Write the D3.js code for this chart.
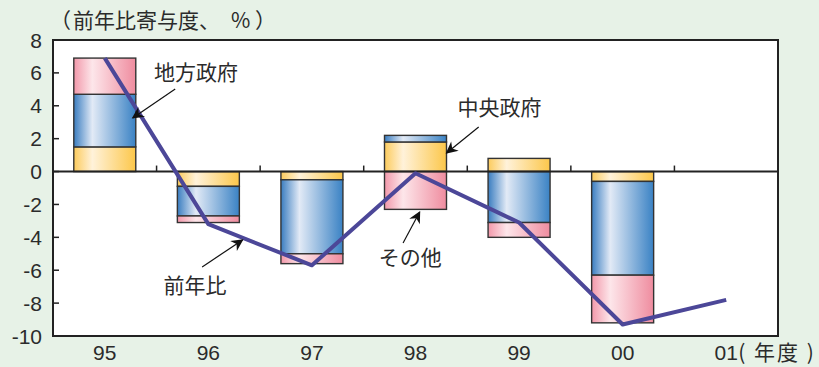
<!DOCTYPE html>
<html>
<head>
<meta charset="utf-8">
<script src="https://cdn.jsdelivr.net/npm/d3@7"></script>
<style>
  html, body { margin: 0; padding: 0; background: #e7f2e7; }
  svg { display: block; font-family: "Noto Sans CJK JP", "Noto Sans", sans-serif; }
  text { fill: #2b2b2b; }
</style>
</head>
<body>
<svg id="chart" width="819" height="367"></svg>
<script>
// ---- data ----
const years = ["95", "96", "97", "98", "99", "00", "01"];
const central = [1.5, -0.9, -0.5, 1.8, 0.8, -0.6, null];   // 中央政府
const local = [3.2, -1.8, -4.5, 0.4, -3.1, -5.7, null];    // 地方政府
const other = [2.2, -0.4, -0.6, -2.3, -0.9, -2.9, null];   // その他
const yoy = [6.9, -3.2, -5.7, -0.1, -3.1, -9.3, -7.8];     // 前年比
const yTicks = [8, 6, 4, 2, 0, -2, -4, -6, -8, -10];

// annotations in data space (x = category index, y = value)
const notes = [
  { text: "地方政府", tx: 0.88, ty: 6.05, x1: 0.68, y1: 5.02, x2: 0.27, y2: 3.26 },
  { text: "中央政府", tx: 3.81, ty: 3.87, x1: 3.61, y1: 2.71, x2: 3.30, y2: 1.13 },
  { text: "前年比", tx: 0.87, ty: -6.9, x1: 0.94, y1: -5.8, x2: 1.33, y2: -4.16 },
  { text: "その他", tx: 2.95, ty: -5.25, x1: 2.88, y1: -4.34, x2: 3.04, y2: -2.46 }
];

const svg = d3.select("#chart");
const plotL = 53, plotR = 778, plotT = 40, plotB = 336;

const x = d3.scaleBand().domain(years).range([plotL, plotR]);
const xi = d3.scaleLinear().domain([-0.5, years.length - 0.5]).range([plotL, plotR]);
const y = d3.scaleLinear().domain([-10, 8]).range([plotB, plotT]);

/* ================================
   GRADIENTS
================================ */
const defs = svg.append("defs");
const grads = {
  central: ["#fccb5c", "#fff2da", "#fcc74a"],
  local: ["#3a7dc0", "#e2eaf6", "#3a82c4"],
  other: ["#f298aa", "#fde6ea", "#ef8c9f"]
};
Object.entries(grads).forEach(([k, c]) => {
  const g = defs.append("linearGradient").attr("id", "g-" + k)
    .attr("x1", "0%").attr("x2", "100%").attr("y1", "0%").attr("y2", "0%");
  g.append("stop").attr("offset", "0%").attr("stop-color", c[0]);
  g.append("stop").attr("offset", "30%").attr("stop-color", c[1]);
  g.append("stop").attr("offset", "100%").attr("stop-color", c[2]);
});
defs.append("marker").attr("id", "arrow")
  .attr("viewBox", "0 0 10 10").attr("refX", 9).attr("refY", 5)
  .attr("markerWidth", 17).attr("markerHeight", 12).attr("markerUnits", "userSpaceOnUse")
  .attr("orient", "auto")
  .append("path").attr("d", "M0,0 L10,5 L0,10 L3,5 Z").attr("fill", "#111");

/* ================================
   PLOT AREA
================================ */
svg.append("rect")
  .attr("x", plotL).attr("y", plotT)
  .attr("width", plotR - plotL).attr("height", plotB - plotT)
  .attr("fill", "#fff");

// stacked bars (diverging)
const rows = years.map((yr, i) => ({ year: yr, central: central[i], local: local[i], other: other[i] }))
  .filter(d => d.central !== null);
const keys = ["central", "local", "other"];
const stacked = d3.stack().keys(keys).offset(d3.stackOffsetDiverging)(rows);
const barW = 62;

svg.append("g").selectAll("g")
  .data(stacked)
  .join("g")
  .attr("fill", d => `url(#g-${d.key})`)
  .selectAll("rect")
  .data(d => d)
  .join("rect")
  .attr("x", d => x(d.data.year) + x.bandwidth() / 2 - barW / 2)
  .attr("y", d => y(Math.max(d[0], d[1])))
  .attr("width", barW)
  .attr("height", d => Math.abs(y(d[0]) - y(d[1])))
  .attr("stroke", "#333")
  .attr("stroke-width", 1.4);

// zero line with small ticks at category boundaries
svg.append("line")
  .attr("x1", plotL).attr("x2", plotR)
  .attr("y1", y(0)).attr("y2", y(0))
  .attr("stroke", "#222").attr("stroke-width", 2);

svg.append("g").selectAll("line")
  .data(years.slice(1))
  .join("line")
  .attr("x1", d => x(d)).attr("x2", d => x(d))
  .attr("y1", y(0)).attr("y2", y(0) - 6)
  .attr("stroke", "#222").attr("stroke-width", 1.5);

// y axis ticks + labels
svg.append("g").selectAll("line")
  .data(yTicks)
  .join("line")
  .attr("x1", plotL).attr("x2", plotL + 6)
  .attr("y1", d => y(d)).attr("y2", d => y(d))
  .attr("stroke", "#222").attr("stroke-width", 1.5);

svg.append("g").selectAll("text")
  .data(yTicks)
  .join("text")
  .attr("x", plotL - 11)
  .attr("y", d => y(d))
  .attr("dy", "0.36em")
  .attr("text-anchor", "end")
  .style("font-family", "'Liberation Sans', Arial, sans-serif")
  .style("font-size", "21px")
  .text(d => d);

// frame
svg.append("rect")
  .attr("x", plotL).attr("y", plotT)
  .attr("width", plotR - plotL).attr("height", plotB - plotT)
  .attr("fill", "none").attr("stroke", "#222").attr("stroke-width", 2);

// x labels
svg.append("g").selectAll("text")
  .data(years)
  .join("text")
  .attr("x", d => x(d) + x.bandwidth() / 2)
  .attr("y", 360)
  .attr("text-anchor", "middle")
  .style("font-family", "'Liberation Sans', Arial, sans-serif")
  .style("font-size", "21px")
  .text(d => d);

svg.append("text")
  .attr("x", x("01") + x.bandwidth() / 2 + 12)
  .attr("y", 360)
  .style("font-size", "21px")
  .style("letter-spacing", "2px")
  .text("( 年度 )");

const title = svg.append("text")
  .attr("y", 28)
  .style("font-size", "21px");
title.append("tspan").attr("x", 50).text("（");
title.append("tspan").attr("x", 73).text("前年比寄与度、");
title.append("tspan").attr("x", 231).text("%");
title.append("tspan").attr("x", 255).text("）");

/* ================================
   YEAR-ON-YEAR LINE
================================ */
const lineGen = d3.line()
  .x((d, i) => x(years[i]) + x.bandwidth() / 2)
  .y(d => y(d));

svg.append("path")
  .datum(yoy)
  .attr("d", lineGen)
  .attr("fill", "none")
  .attr("stroke", "#4c4798")
  .attr("stroke-width", 4)
  .attr("stroke-linejoin", "round");

/* ================================
   ANNOTATIONS
================================ */
const ann = svg.append("g");
ann.selectAll("line")
  .data(notes)
  .join("line")
  .attr("x1", d => xi(d.x1)).attr("y1", d => y(d.y1))
  .attr("x2", d => xi(d.x2)).attr("y2", d => y(d.y2))
  .attr("stroke", "#111").attr("stroke-width", 1.2)
  .attr("marker-end", "url(#arrow)");

ann.selectAll("text")
  .data(notes)
  .join("text")
  .attr("x", d => xi(d.tx))
  .attr("y", d => y(d.ty))
  .attr("dy", "0.36em")
  .attr("text-anchor", "middle")
  .style("font-size", "21px")
  .text(d => d.text);
</script>
</body>
</html>
